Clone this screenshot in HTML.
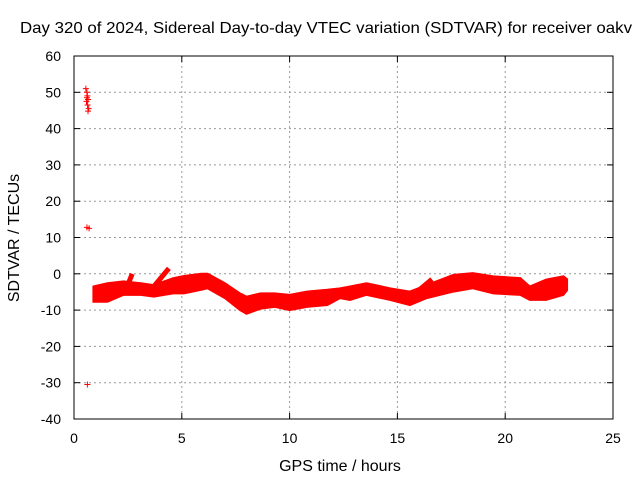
<!DOCTYPE html>
<html><head><meta charset="utf-8"><style>
body{margin:0;background:#fff}
svg{display:block;font-family:"Liberation Sans",sans-serif}
</style></head><body>
<svg id="c" width="640" height="480">
<text x="326" y="33" text-anchor="middle" font-size="16" textLength="612" lengthAdjust="spacingAndGlyphs">Day 320 of 2024, Sidereal Day-to-day VTEC variation (SDTVAR) for receiver oakv</text>
<text x="340" y="471" text-anchor="middle" font-size="16">GPS time / hours</text>
<text transform="translate(19,238) rotate(-90)" text-anchor="middle" font-size="16">SDTVAR / TECUs</text>
<g id="grid"></g><g id="data"></g>
<rect x="74" y="56" width="539" height="363" fill="none" stroke="#000"/>
</svg>
<script>
const xTicks=[0,5,10,15,20,25];
const yTicks=[-40,-30,-20,-10,0,10,20,30,40,50,60];
const hours=[0.9,1.55,2.3,3.1,3.7,4.6,5.1,5.9,6.2,7.0,7.7,8.0,8.65,9.3,10.0,10.8,11.75,12.34,12.8,13.57,14.66,15.58,16.36,17.6,18.5,19.45,20.7,21.14,21.9,22.7,22.87];
const upper=[-3.5,-2.6,-2.1,-2.6,-3.1,-1.2,-0.6,0,0,-2.6,-5.4,-6.3,-5.4,-5.4,-5.8,-4.9,-4.4,-4,-3.5,-2.6,-4,-4.9,-3.1,-0.3,0.2,-0.7,-1.2,-3.5,-1.6,-0.7,-1.5];
const lower=[-7.7,-7.7,-5.8,-5.8,-6.3,-5.4,-5.4,-4.4,-4,-6.7,-10,-11,-9.6,-9.1,-10,-9.1,-8.6,-6.7,-7.2,-5.8,-7.2,-8.6,-6.7,-4.9,-4,-5.4,-5.8,-7.2,-7.2,-5.8,-4.5];
const branchX=[[3.7,4.4],[2.5,2.7],[15.9,16.6]];
const branchY=[[-3.5,1.5],[-3,0],[-5,-1.5]];
const outX=[0.55,0.6,0.62,0.65,0.58,0.63,0.68,0.6,0.65,0.6,0.7,0.62];
const outY=[51,50,49,48,47.5,46.5,45.5,48.5,44.8,12.8,12.5,-30.5];
const X=v=>74+v*539/25, Y=v=>419-(v+40)*3.63;
const ns="http://www.w3.org/2000/svg";
const g=document.getElementById('grid'),d=document.getElementById('data');
function mk(p,tag,a){const e=document.createElementNS(ns,tag);for(const k in a)e.setAttribute(k,a[k]);p.appendChild(e);return e;}
xTicks.forEach(t=>{
 if(t>0&&t<25){const l=mk(g,'line',{x1:X(t),x2:X(t),y1:56,y2:419,stroke:'#999','stroke-dasharray':'2,3'});
 
 }
 mk(g,'line',{x1:X(t),x2:X(t),y1:419,y2:413,stroke:'#000'});
 mk(g,'line',{x1:X(t),x2:X(t),y1:56,y2:62,stroke:'#000'});
 const s=mk(g,'text',{x:X(t),y:443,'text-anchor':'middle','font-size':14});s.textContent=t;
 
 
});
yTicks.forEach(t=>{
 if(t>-40&&t<60){const l=mk(g,'line',{x1:74,x2:613,y1:Y(t),y2:Y(t),stroke:'#999','stroke-dasharray':'2,3'});
 
 }
 mk(g,'line',{x1:74,x2:80,y1:Y(t),y2:Y(t),stroke:'#000'});
 mk(g,'line',{x1:607,x2:613,y1:Y(t),y2:Y(t),stroke:'#000'});
 const s=mk(g,'text',{x:61,y:Y(t)+5,'text-anchor':'end','font-size':14});s.textContent=t;
 
 
});
let pts=hours.map((h,i)=>X(h)+','+Y(upper[i]));
for(let i=hours.length-1;i>=0;i--)pts.push(X(hours[i])+','+Y(lower[i]));
const band=mk(d,'polygon',{points:pts.join(' '),fill:'#f00',stroke:'#f00','stroke-width':2});


branchX.forEach((bx,i)=>{
 const l=mk(d,'line',{x1:X(bx[0]),y1:Y(branchY[i][0]),x2:X(bx[1]),y2:Y(branchY[i][1]),stroke:'#f00','stroke-width':5});
 
 
});
outX.forEach((x,i)=>{
 const p=mk(d,'path',{d:`M${X(x)-3},${Y(outY[i])}h6M${X(x)},${Y(outY[i])-3}v6`,stroke:'#f00','stroke-width':1});
 
 
});
</script>
</body></html>
